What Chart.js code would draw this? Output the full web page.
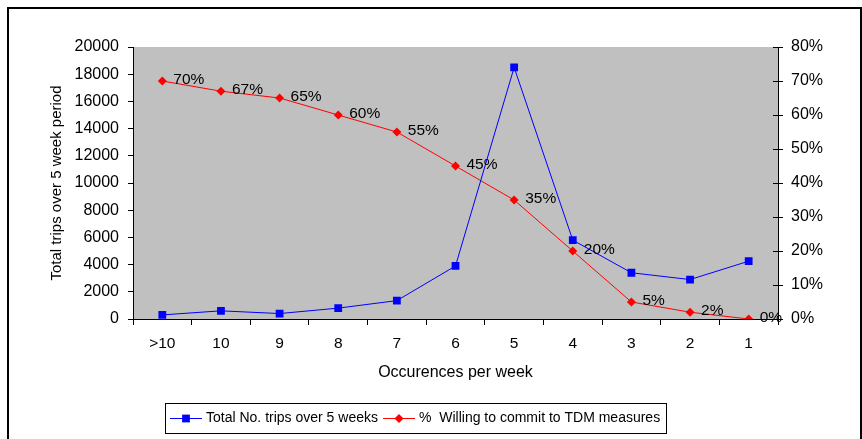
<!DOCTYPE html>
<html>
<head>
<meta charset="utf-8">
<script src="https://cdn.jsdelivr.net/npm/chart.js@4/dist/chart.umd.min.js"></script>
<style>
  html, body { margin: 0; padding: 0; background: #fff; }
  #wrap { width: 862px; height: 439px; position: relative; }
</style>
</head>
<body>
<div id="wrap"><canvas id="c"></canvas></div>
<script>
// Trip frequency categories (occurrences per week)
const categories = ['>10', '10', '9', '8', '7', '6', '5', '4', '3', '2', '1'];
// Total number of trips recorded over the 5 week period
const totalTrips = [300, 600, 400, 800, 1350, 3900, 18500, 5800, 3400, 2900, 4250];
// Share of respondents willing to commit to TDM measures (%)
const willingPct = [70, 67, 65, 60, 55, 45, 35, 20, 5, 2, 0];
// Axis tick values
const tripTicks = [0, 2000, 4000, 6000, 8000, 10000, 12000, 14000, 16000, 18000, 20000];
const pctTicks = [0, 10, 20, 30, 40, 50, 60, 70, 80];

const SERIES_TRIPS = 'Total No. trips over 5 weeks';
const SERIES_PCT = '%  Willing to commit to TDM measures';

const FONT = 'Arial, "Liberation Sans", sans-serif';
const BLUE = '#0000FF';
const RED = '#FF0000';

// Frame, plot background, cross ticks, value labels and boxed legend
const decorations = {
  id: 'decorations',
  beforeDraw(chart) {
    const { ctx, chartArea: a } = chart;
    ctx.save();
    ctx.fillStyle = '#fff';
    ctx.fillRect(0, 0, chart.width, chart.height);
    ctx.fillStyle = '#C0C0C0';
    ctx.fillRect(a.left, a.top, a.right - a.left, a.bottom - a.top);
    ctx.strokeStyle = '#000';
    ctx.lineWidth = 2;
    ctx.strokeRect(8, 8, 853, 450);
    ctx.restore();
  },
  afterDatasetsDraw(chart) {
    const { ctx } = chart;
    // inner half of the right axis cross ticks
    const y1 = chart.scales.y1;
    ctx.save();
    ctx.strokeStyle = '#000';
    ctx.lineWidth = 1;
    pctTicks.forEach(v => {
      const py = Math.round(y1.getPixelForValue(v)) + 0.5;
      ctx.beginPath();
      ctx.moveTo(y1.left - 5, py);
      ctx.lineTo(y1.left, py);
      ctx.stroke();
    });
    // value labels on the percentage series
    const meta = chart.getDatasetMeta(1);
    ctx.fillStyle = '#000';
    ctx.font = '15.5px ' + FONT;
    ctx.textAlign = 'left';
    ctx.textBaseline = 'middle';
    meta.data.forEach((pt, i) => {
      ctx.fillText(willingPct[i] + '%', pt.x + 11, pt.y - 1);
    });
    ctx.restore();
  },
  afterDraw(chart) {
    const { ctx } = chart;
    ctx.save();
    // legend box
    ctx.strokeStyle = '#000';
    ctx.lineWidth = 1;
    ctx.strokeRect(165.5, 403.5, 501, 30);
    const ly = 418;
    const items = [
      { x: 170, color: BLUE, style: 'rect', radius: 5.5, text: SERIES_TRIPS },
      { x: 383, color: RED, style: 'rectRot', radius: 4.5, text: SERIES_PCT }
    ];
    ctx.font = '14px ' + FONT;
    ctx.textAlign = 'left';
    ctx.textBaseline = 'middle';
    items.forEach(it => {
      ctx.strokeStyle = it.color;
      ctx.lineWidth = 1;
      ctx.beginPath();
      ctx.moveTo(it.x, ly + 0.5);
      ctx.lineTo(it.x + 32, ly + 0.5);
      ctx.stroke();
      ctx.fillStyle = it.color;
      Chart.helpers.drawPoint(ctx, { pointStyle: it.style, radius: it.radius, borderWidth: 0 }, it.x + 16, ly + 0.5);
      ctx.fillStyle = '#000';
      ctx.fillText(it.text, it.x + 36, ly);
    });
    ctx.restore();
  }
};

new Chart(document.getElementById('c'), {
  type: 'line',
  data: {
    labels: categories,
    datasets: [
      {
        label: SERIES_TRIPS,
        data: totalTrips,
        yAxisID: 'y',
        borderColor: BLUE,
        backgroundColor: BLUE,
        borderWidth: 1,
        pointStyle: 'rect',
        pointRadius: 5.5,
        pointBorderWidth: 0,
        tension: 0
      },
      {
        label: SERIES_PCT,
        data: willingPct,
        yAxisID: 'y1',
        borderColor: RED,
        backgroundColor: RED,
        borderWidth: 1,
        pointStyle: 'rectRot',
        pointRadius: 4.5,
        pointBorderWidth: 0,
        tension: 0
      }
    ]
  },
  options: {
    responsive: true,
    maintainAspectRatio: false,
    animation: false,
    devicePixelRatio: 1,
    layout: { padding: { left: 40, top: 47, right: 0, bottom: 54 } },
    plugins: { legend: { display: false }, tooltip: { enabled: false } },
    scales: {
      x: {
        type: 'category',
        offset: true,
        grid: { display: true, drawOnChartArea: false, offset: true, tickLength: 6, color: '#000', lineWidth: 1 },
        border: { display: true, color: '#000', width: 1 },
        ticks: { color: '#000', font: { family: FONT, size: 15.5 }, padding: 9, maxRotation: 0 },
        title: { display: true, text: 'Occurences per week', color: '#000', font: { family: FONT, size: 16 }, padding: { top: 0, bottom: 3 } },
        afterFit(s) { s.height = 66; }
      },
      y: {
        position: 'left',
        min: 0,
        max: 20000,
        afterBuildTicks(s) { s.ticks = tripTicks.map(v => ({ value: v })); },
        grid: { display: true, drawOnChartArea: false, tickLength: 5, color: '#000' },
        border: { display: true, color: '#000', width: 1 },
        ticks: { color: '#000', font: { family: FONT, size: 16 }, padding: 9, callback: v => String(v) },
        title: { display: true, text: 'Total trips over 5 week period', color: '#000', font: { family: FONT, size: 15 }, padding: { top: 8, bottom: 0 } },
        afterFit(s) { s.width = 93; }
      },
      y1: {
        position: 'right',
        min: 0,
        max: 80,
        afterBuildTicks(s) { s.ticks = pctTicks.map(v => ({ value: v })); },
        grid: { display: true, drawOnChartArea: false, tickLength: 5, color: '#000' },
        border: { display: true, color: '#000', width: 1 },
        ticks: { color: '#000', font: { family: FONT, size: 16 }, padding: 8, callback: v => v + '%' },
        afterFit(s) { s.width = 84; }
      }
    }
  },
  plugins: [decorations]
});
</script>
</body>
</html>
